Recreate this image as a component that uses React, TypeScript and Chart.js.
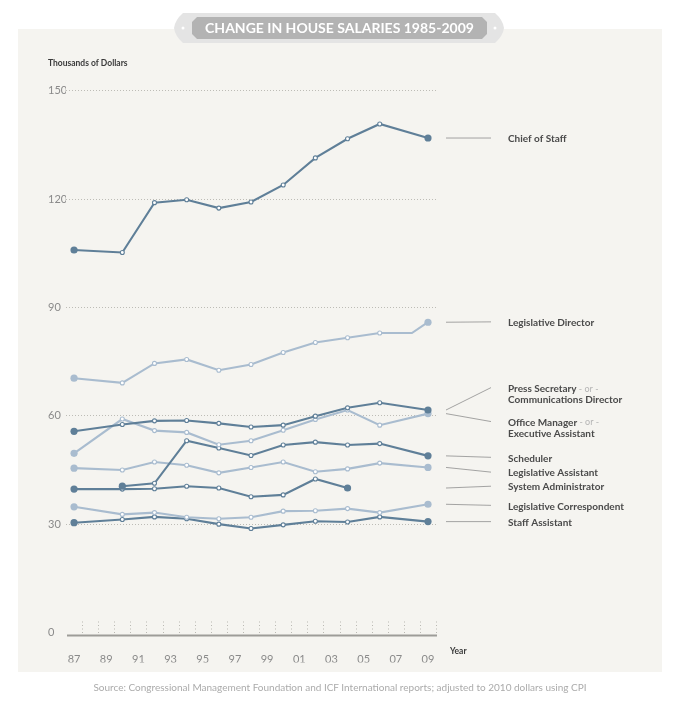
import React, { useEffect, useRef } from 'react';
import { Chart, registerables } from 'chart.js';

Chart.register(...registerables);

// ---------- data ----------
const YEARS = [1987, 1990, 1992, 1994, 1996, 1998, 2000, 2002, 2004, 2006, 2008, 2009];
const YEAR_TICKS = [1987, 1989, 1991, 1993, 1995, 1997, 1999, 2001, 2003, 2005, 2007, 2009];
const Y_TICKS = [0, 30, 60, 90, 120, 150];
const UNMARKED_YEARS = [2008];

const CHIEF_OF_STAFF = [105.9, 105.2, 119.0, 119.8, 117.5, 119.2, 123.9, 131.4, 136.7, 140.8, null, 136.9];
const LEGISLATIVE_DIRECTOR = [70.4, 69.1, 74.5, 75.6, 72.6, 74.2, 77.5, 80.3, 81.6, 82.9, 82.9, 85.9];
const PRESS_SECRETARY = [55.7, 57.6, 58.6, 58.7, 57.9, 56.9, 57.4, 59.9, 62.2, 63.6, null, 61.6];
const OFFICE_MANAGER = [49.6, 59.1, 55.9, 55.4, 52.0, 53.1, 56.0, 59.0, 61.6, 57.4, null, 60.6];
const SCHEDULER = [null, 40.5, 41.3, 53.1, 51.1, 49.0, 51.9, 52.7, 51.9, 52.3, null, 48.9];
const LEGISLATIVE_ASSISTANT = [45.5, 45.0, 47.2, 46.3, 44.2, 45.7, 47.2, 44.5, 45.3, 46.9, null, 45.7];
const SYSTEM_ADMINISTRATOR = [39.7, 39.7, 39.8, 40.5, 40.0, 37.6, 38.1, 42.5, 40.0, null, null, null];
const LEGISLATIVE_CORRESPONDENT = [34.8, 32.7, 33.2, 31.9, 31.5, 31.9, 33.6, 33.7, 34.3, 33.2, null, 35.5];
const STAFF_ASSISTANT = [30.4, 31.3, 32.0, 31.5, 30.0, 28.8, 29.8, 30.8, 30.6, 32.0, null, 30.7];

const SERIES_NAMES = [
  'Chief of Staff',
  'Legislative Director',
  'Press Secretary - or - Communications Director',
  'Office Manager - or - Executive Assistant',
  'Scheduler',
  'Legislative Assistant',
  'System Administrator',
  'Legislative Correspondent',
  'Staff Assistant',
];
const SERIES_VALUES = [
  CHIEF_OF_STAFF,
  LEGISLATIVE_DIRECTOR,
  PRESS_SECRETARY,
  OFFICE_MANAGER,
  SCHEDULER,
  LEGISLATIVE_ASSISTANT,
  SYSTEM_ADMINISTRATOR,
  LEGISLATIVE_CORRESPONDENT,
  STAFF_ASSISTANT,
];
// where each right-hand label sits, in thousands of dollars
const LABEL_ANCHORS = [136.9, 86.0, 67.8, 58.4, 48.5, 44.4, 40.5, 35.2, 30.7];

const TITLE = 'CHANGE IN HOUSE SALARIES 1985-2009';
const Y_TITLE = 'Thousands of Dollars';
const X_TITLE = 'Year';
const SOURCE = 'Source: Congressional Management Foundation and ICF International reports; adjusted to 2010 dollars using CPI';

// ---------- styles ----------
const DARK = '#5f7f98';
const LIGHT = '#a9bccf';
const FONT = 'Lato, "Open Sans", sans-serif';

const decorPlugin = {
  id: 'decor',
  afterDraw(chart: any) {
    const { ctx, chartArea, scales } = chart;
    const xs = scales.x;
    const ys = scales.y;
    ctx.save();

    // y title
    ctx.font = `bold 8.5px ${FONT}`;
    ctx.fillStyle = '#3a3a3a';
    ctx.textBaseline = 'middle';
    ctx.textAlign = 'left';
    ctx.fillText(Y_TITLE, ys.left, chartArea.top - 27);

    // x axis line
    const axisY = chartArea.bottom + 3;
    ctx.strokeStyle = '#9d9c98';
    ctx.lineWidth = 2;
    ctx.beginPath();
    ctx.moveTo(chartArea.left + 1, axisY);
    ctx.lineTo(chartArea.right, axisY);
    ctx.stroke();

    // dotted tick marks between years
    ctx.strokeStyle = '#b9b8b2';
    ctx.lineWidth = 1;
    ctx.setLineDash([1, 2.5]);
    for (let yr = YEARS[0]; yr <= YEARS[YEARS.length - 1]; yr++) {
      const px = Math.round(xs.getPixelForValue(yr + 0.5)) + 0.5;
      ctx.beginPath();
      ctx.moveTo(px, chartArea.bottom - 11);
      ctx.lineTo(px, chartArea.bottom + 1);
      ctx.stroke();
    }
    ctx.setLineDash([]);

    // x title
    ctx.font = `bold 8.5px ${FONT}`;
    ctx.fillStyle = '#3a3a3a';
    ctx.fillText(X_TITLE, xs.getPixelForValue(2009) + 22, chartArea.bottom + 19);

    // leader lines + labels
    const x1 = chartArea.right + 9;
    const x2 = chartArea.right + 54;
    const tx = chartArea.right + 71;
    chart.data.datasets.forEach((ds: any, i: number) => {
      const last = ds.data[ds.data.length - 1];
      const yStart = ys.getPixelForValue(last.y);
      const yEnd = ys.getPixelForValue(LABEL_ANCHORS[i]);
      ctx.strokeStyle = '#8e8e8e';
      ctx.lineWidth = 0.8;
      ctx.beginPath();
      ctx.moveTo(x1, yStart);
      ctx.lineTo(x2, yEnd);
      ctx.stroke();

      const name: string = SERIES_NAMES[i];
      const parts = name.split(' - or - ');
      const ty = yEnd + 1;
      ctx.textAlign = 'left';
      ctx.textBaseline = 'middle';
      ctx.font = `bold 10px ${FONT}`;
      ctx.fillStyle = '#4a4a4a';
      ctx.fillText(parts[0], tx, ty);
      if (parts.length > 1) {
        const w = ctx.measureText(parts[0]).width;
        ctx.font = `9px ${FONT}`;
        ctx.fillStyle = '#b4b4b4';
        ctx.fillText(' - or -', tx + w, ty);
        ctx.font = `bold 10px ${FONT}`;
        ctx.fillStyle = '#4a4a4a';
        ctx.fillText(parts[1], tx, ty + 11.5);
      }
    });
    ctx.restore();
  },
};

export default function App() {
  const canvasRef = useRef<HTMLCanvasElement | null>(null);

  useEffect(() => {
    if (!canvasRef.current) return;
    const datasets = SERIES_VALUES.map((vals, i) => {
      const color = i % 2 === 0 ? DARK : LIGHT;
      const data = YEARS.map((x, k) => ({ x, y: vals[k] })).filter((p) => p.y !== null);
      const isEnd = (ctx: any) => ctx.dataIndex === 0 || ctx.dataIndex === data.length - 1;
      return {
        label: SERIES_NAMES[i],
        data,
        borderColor: color,
        borderWidth: 2.1,
        pointBorderColor: color,
        pointBackgroundColor: (ctx: any) => (isEnd(ctx) ? color : '#ffffff'),
        pointBorderWidth: (ctx: any) => (isEnd(ctx) ? 0 : 1.1),
        pointRadius: (ctx: any) => {
          if (isEnd(ctx)) return 3.6;
          const p = data[ctx.dataIndex];
          if (p && UNMARKED_YEARS.includes(p.x)) return 0;
          return 2;
        },
        tension: 0,
        clip: false as any,
      };
    });

    const chart = new Chart(canvasRef.current, {
      type: 'line',
      data: { datasets },
      options: {
        responsive: false,
        animation: false,
        events: [],
        layout: { padding: { left: 48, top: 90.7, right: 243, bottom: 39.5 } },
        plugins: { legend: { display: false }, tooltip: { enabled: false } },
        scales: {
          x: {
            type: 'linear',
            min: 1986.5,
            max: 2009.56,
            afterFit: (s: any) => {
              s.height = 30;
            },
            afterBuildTicks: (s: any) => {
              s.ticks = YEAR_TICKS.map((v) => ({ value: v }));
            },
            grid: { display: false },
            border: { display: false },
            ticks: {
              padding: 12,
              color: '#8a8a8a',
              font: { family: FONT, size: 11 },
              maxRotation: 0,
              autoSkip: false,
              callback: (v: any) => String(v).slice(2),
            },
          },
          y: {
            min: 0,
            max: 150,
            afterFit: (s: any) => {
              s.width = 18;
            },
            afterBuildTicks: (s: any) => {
              s.ticks = Y_TICKS.map((v) => ({ value: v }));
            },
            grid: {
              color: (c: any) => (c.tick && c.tick.value === 0 ? 'rgba(0,0,0,0)' : '#bdbcb6'),
              lineWidth: 1,
              drawTicks: false,
            },
            border: { display: false, dash: [1, 2] },
            ticks: {
              crossAlign: 'far',
              color: '#8a8a8a',
              font: { family: FONT, size: 11 },
              padding: 0,
            },
          },
        },
      },
      plugins: [decorPlugin],
    });
    return () => chart.destroy();
  }, []);

  return (
    <div
      style={{
        position: 'absolute',
        left: 0,
        top: 0,
        width: 680,
        height: 702,
        background: '#ffffff',
        overflow: 'hidden',
        fontFamily: FONT,
      }}
    >
      <div style={{ position: 'absolute', left: 18, top: 29, width: 644, height: 643, background: '#f5f4f0' }} />
      <canvas
        ref={canvasRef}
        width={680}
        height={702}
        style={{ position: 'absolute', left: 0, top: 0, width: 680, height: 702 }}
      />
      <svg width={680} height={50} style={{ position: 'absolute', left: 0, top: 0 }}>
        <path d="M183,13 L495,13 Q503,20 504,28 Q503,36 495,43 L183,43 Q175,36 174,28 Q175,20 183,13 Z" fill="#e4e4e4" />
        <path d="M197,17 L482,17 L487,22 L487,34 L482,39 L197,39 L192,34 L192,22 Z" fill="#b3b3b3" />
        <circle cx={183} cy={28} r={1.5} fill="#ffffff" />
        <circle cx={495} cy={28} r={1.5} fill="#ffffff" />
      </svg>
      <div
        style={{
          position: 'absolute',
          left: 192,
          width: 295,
          top: 17,
          height: 22,
          lineHeight: '22px',
          textAlign: 'center',
          color: '#ffffff',
          fontWeight: 700,
          fontSize: 14,
          whiteSpace: 'nowrap',
        }}
      >
        {TITLE}
      </div>
      <div
        style={{
          position: 'absolute',
          left: 0,
          width: 680,
          top: 681,
          textAlign: 'center',
          color: '#ababab',
          fontSize: 10,
          whiteSpace: 'nowrap',
        }}
      >
        {SOURCE}
      </div>
    </div>
  );
}
